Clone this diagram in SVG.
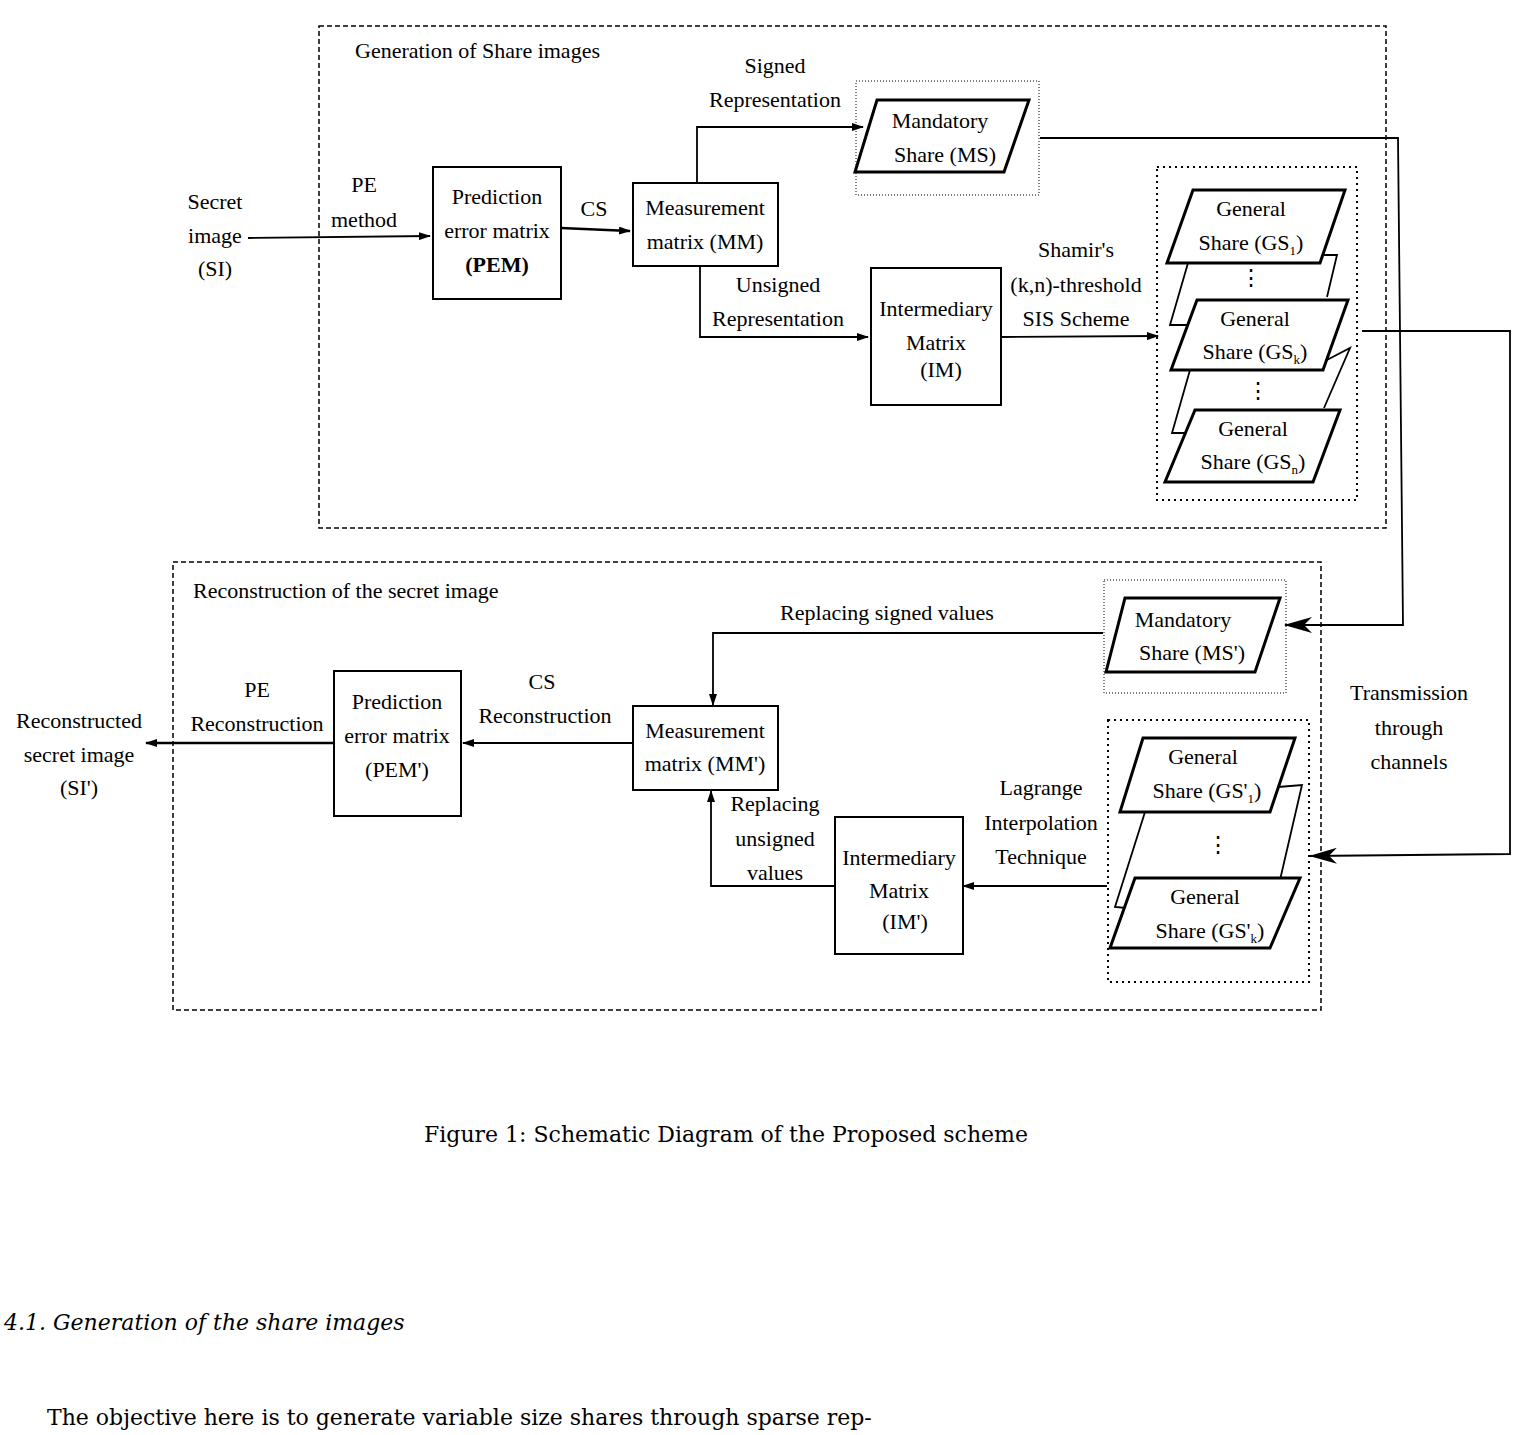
<svg xmlns="http://www.w3.org/2000/svg" width="1514" height="1435" viewBox="0 0 1514 1435">
<defs>
<style>
text{font-family:"Liberation Serif","Times New Roman",Times,serif;font-size:22px;fill:#000;text-anchor:middle}
.box{fill:#fff;stroke:#000;stroke-width:2}
.pg{fill:#fff;stroke:#000;stroke-width:3}
.dash{fill:none;stroke:#000;stroke-width:1.5;stroke-dasharray:5,3}
.dot{fill:none;stroke:#000;stroke-width:2;stroke-dasharray:2,4}
.dot2{fill:none;stroke:#000;stroke-width:1;stroke-dasharray:1,2}
.ln{fill:none;stroke:#000;stroke-width:1.8}
.lb{fill:none;stroke:#000;stroke-width:2.5}
text.doc{font-family:"DejaVu Serif",serif}
text.st{text-anchor:start}
</style>
<marker id="a" markerWidth="12" markerHeight="8" refX="11" refY="4" orient="auto" markerUnits="userSpaceOnUse"><path d="M0,0 L12,4 L0,8 z"/></marker>
<marker id="b" markerWidth="28" markerHeight="16" refX="27" refY="8" orient="auto" markerUnits="userSpaceOnUse"><path d="M0,0 L28,8 L0,16 L8,8 z"/></marker>
</defs>
<rect width="1514" height="1435" fill="#fff"/>
<rect class="dash" x="319" y="26" width="1067" height="502"/>
<rect class="dash" x="173" y="562" width="1148" height="448"/>
<text class="st" x="355" y="58">Generation of Share images</text>
<text class="st" x="193" y="598">Reconstruction of the secret image</text>
<g id="connectors">
<line class="ln" x1="248" y1="238" x2="430" y2="236" marker-end="url(#a)"/>
<line class="lb" x1="561" y1="228" x2="630" y2="231" marker-end="url(#a)"/>
<polyline class="ln" points="697,182 697,127 863,127" marker-end="url(#a)"/>
<polyline class="ln" points="700,266 700,337 868,337" marker-end="url(#a)"/>
<line class="ln" x1="1001" y1="337" x2="1158" y2="336" marker-end="url(#a)"/>
<polyline class="ln" points="1040,138 1398,138 1403,625 1285,625" marker-end="url(#b)"/>
<polyline class="ln" points="1362,331 1510,331 1510,854 1310,856" marker-end="url(#b)"/>
<polyline class="ln" points="1103,633 713,633 713,705" marker-end="url(#a)"/>
<line class="ln" x1="632" y1="743" x2="463" y2="743" marker-end="url(#a)"/>
<line class="lb" x1="333" y1="743" x2="146" y2="743" marker-end="url(#a)"/>
<polyline class="ln" points="835,886 711,886 711,791" marker-end="url(#a)"/>
<line class="ln" x1="1107" y1="886" x2="963" y2="886" marker-end="url(#a)"/>
</g>
<g id="si"><text x="215" y="209">Secret</text><text x="215" y="243">image</text><text x="215" y="276">(SI)</text></g>
<text x="364" y="192">PE</text><text x="364" y="227">method</text>
<g id="pem"><rect class="box" x="433" y="167" width="128" height="132"/><text x="497" y="204">Prediction</text><text x="497" y="238">error matrix</text><text x="497" y="272" style="font-weight:bold">(PEM)</text></g>
<text x="594" y="216">CS</text>
<g id="mm"><rect class="box" x="633" y="183" width="145" height="83"/><text x="705" y="215">Measurement</text><text x="705" y="249">matrix (MM)</text></g>
<text x="775" y="73">Signed</text><text x="775" y="107">Representation</text>
<text x="778" y="292">Unsigned</text><text x="778" y="326">Representation</text>
<g id="ms"><rect class="dot2" x="856" y="81" width="183" height="114"/><polygon class="pg" points="877,100 1029,100 1004,172 855,172"/><text x="940" y="128">Mandatory</text><text x="945" y="162">Share (MS)</text></g>
<g id="im"><rect class="box" x="871" y="268" width="130" height="137"/><text x="936" y="316">Intermediary</text><text x="936" y="350">Matrix</text><text x="941" y="377">(IM)</text></g>
<text x="1076" y="257">Shamir's</text><text x="1076" y="292">(k,n)-threshold</text><text x="1076" y="326">SIS Scheme</text>
<g id="gs">
<rect class="dot" x="1157" y="167" width="200" height="333"/>
<polyline class="ln" points="1320,255 1337,255 1327,297"/>
<polyline class="ln" points="1188,263 1170,325 1190,325"/>
<polyline class="ln" points="1323,362 1350,348 1324,408"/>
<polyline class="ln" points="1190,370 1172,433 1188,433"/>
<polygon class="pg" points="1193,190 1345,190 1320,263 1167,263"/>
<text x="1251" y="216">General</text><text x="1251" y="250">Share (GS<tspan font-size="13" dy="5">1</tspan><tspan dy="-5">)</tspan></text>
<text x="1251" y="285">⋮</text>
<polygon class="pg" points="1197,300 1348,300 1323,370 1171,370"/>
<text x="1255" y="326">General</text><text x="1255" y="359">Share (GS<tspan font-size="13" dy="5">k</tspan><tspan dy="-5">)</tspan></text>
<text x="1258" y="398">⋮</text>
<polygon class="pg" points="1195,410 1340,410 1313,482 1165,482"/>
<text x="1253" y="436">General</text><text x="1253" y="469">Share (GS<tspan font-size="13" dy="5">n</tspan><tspan dy="-5">)</tspan></text>
</g>
<text x="1409" y="700">Transmission</text><text x="1409" y="735">through</text><text x="1409" y="769">channels</text>
<text x="887" y="620">Replacing signed values</text>
<g id="ms2"><rect class="dot2" x="1104" y="580" width="182" height="113"/><polygon class="pg" points="1125,598 1280,598 1255,672 1106,672"/><text x="1183" y="627">Mandatory</text><text x="1192" y="660">Share (MS')</text></g>
<g id="gs2">
<rect class="dot" x="1108" y="720" width="201" height="262"/>
<polyline class="ln" points="1278,787 1302,785 1280,880"/>
<polyline class="ln" points="1145,812 1115,907 1137,909"/>
<polygon class="pg" points="1143,738 1295,738 1270,812 1120,812"/>
<text x="1203" y="764">General</text><text x="1207" y="798">Share (GS'<tspan font-size="13" dy="5">1</tspan><tspan dy="-5">)</tspan></text>
<text x="1218" y="852">⋮</text>
<polygon class="pg" points="1135,878 1300,878 1270,948 1110,948"/>
<text x="1205" y="904">General</text><text x="1210" y="938">Share (GS'<tspan font-size="13" dy="5">k</tspan><tspan dy="-5">)</tspan></text>
</g>
<text x="1041" y="795">Lagrange</text><text x="1041" y="830">Interpolation</text><text x="1041" y="864">Technique</text>
<g id="im2"><rect class="box" x="835" y="817" width="128" height="137"/><text x="899" y="865">Intermediary</text><text x="899" y="898">Matrix</text><text x="905" y="929">(IM')</text></g>
<text x="775" y="811">Replacing</text><text x="775" y="846">unsigned</text><text x="775" y="880">values</text>
<g id="mm2"><rect class="box" x="633" y="706" width="145" height="84"/><text x="705" y="738">Measurement</text><text x="705" y="771">matrix (MM')</text></g>
<text x="542" y="689">CS</text><text x="545" y="723">Reconstruction</text>
<g id="pem2"><rect class="box" x="334" y="671" width="127" height="145"/><text x="397" y="709">Prediction</text><text x="397" y="743">error matrix</text><text x="397" y="777">(PEM')</text></g>
<text x="257" y="697">PE</text><text x="257" y="731">Reconstruction</text>
<g id="si2"><text x="79" y="728">Reconstructed</text><text x="79" y="762">secret image</text><text x="79" y="795">(SI')</text></g>
<text class="doc" x="726" y="1142" font-size="26">Figure 1: Schematic Diagram of the Proposed scheme</text>
<text class="doc st" x="4" y="1330" font-size="32" font-style="italic">4.1.  Generation of the share images</text>
<text class="doc st" x="47" y="1425" font-size="33">The objective here is to generate variable size shares through sparse rep-</text>
</svg>
